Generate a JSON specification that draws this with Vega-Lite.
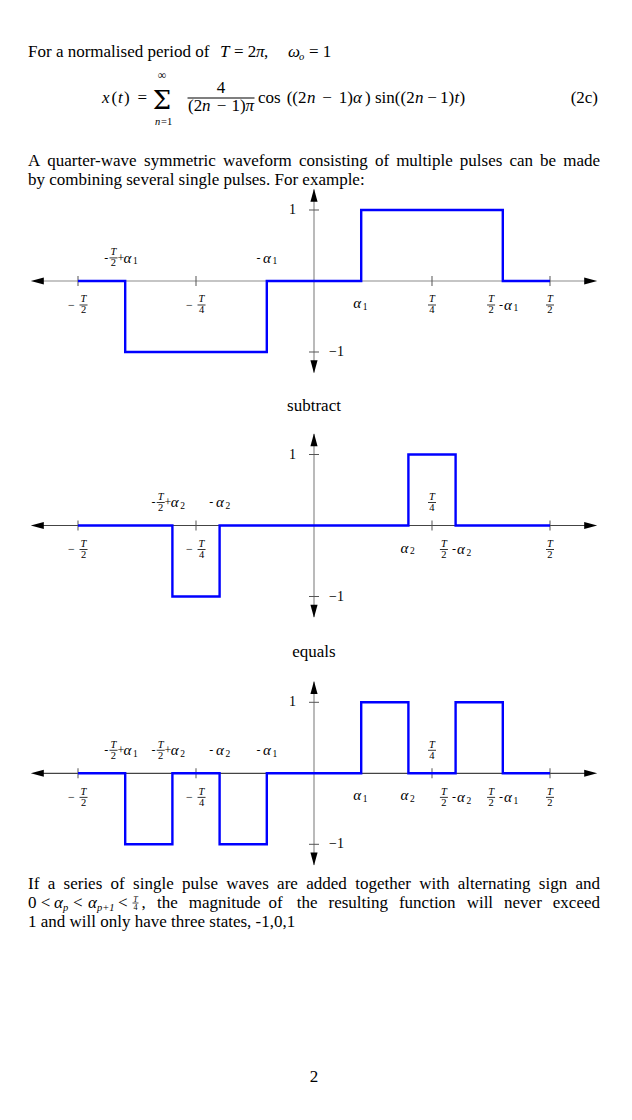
{
 "$schema": "https://vega.github.io/schema/vega-lite/v6.json",
 "width": 632, "height": 1120,
 "autosize": {"type": "fit", "contains": "padding"},
 "padding": 0,
 "background": "white",
 "config": {"view": {"stroke": null}, "axis": {"disable": true}, "text": {"font": "Liberation Serif", "color": "#000"}},
 "datasets": {
  "page": [
   {"x":-0.6059,"y":2.85,"s":"For a normalised period of","cls":"rm"},
   {"x":-0.1992,"y":2.85,"s":"T","cls":"it"},
   {"x":-0.1695,"y":2.85,"s":"= 2","cls":"rm"},
   {"x":-0.1229,"y":2.85,"s":"π","cls":"it"},
   {"x":-0.1059,"y":2.85,"s":",","cls":"rm"},
   {"x":-0.0551,"y":2.85,"s":"ω","cls":"it"},
   {"x":-0.0318,"y":3.0,"s":"o","cls":"sub"},
   {"x":-0.0106,"y":2.85,"s":"= 1","cls":"rm"},
   {"x":-0.4492,"y":5.15,"s":"x","cls":"it"},
   {"x":-0.429,"y":5.15,"s":"(","cls":"rm"},
   {"x":-0.4153,"y":5.15,"s":"t","cls":"it"},
   {"x":-0.4025,"y":5.15,"s":")","cls":"rm"},
   {"x":-0.3739,"y":5.15,"s":"=","cls":"rm"},
   {"x":-0.322,"y":5.45,"s":"Σ","cls":"sig"},
   {"x":-0.322,"y":3.95,"s":"∞","cls":"subc"},
   {"x":-0.3369,"y":6.25,"s":"n","cls":"sub"},
   {"x":-0.3241,"y":6.25,"s":"=1","cls":"subrm"},
   {"x":-0.197,"y":4.665,"s":"4","cls":"rmc"},
   {"x":-0.2669,"y":5.57,"s":"(2","cls":"rm"},
   {"x":-0.2373,"y":5.57,"s":"n","cls":"it"},
   {"x":-0.1958,"y":5.57,"s":"−","cls":"rmc"},
   {"x":-0.1449,"y":5.57,"s":"1)","cls":"rmr"},
   {"x":-0.1449,"y":5.57,"s":"π","cls":"it"},
   {"x":-0.1186,"y":5.15,"s":"cos","cls":"rm"},
   {"x":-0.0159,"y":5.15,"s":"((2","cls":"rmr"},
   {"x":-0.0148,"y":5.15,"s":"n","cls":"it"},
   {"x":0.0275,"y":5.15,"s":"−","cls":"rmc"},
   {"x":0.0826,"y":5.15,"s":"1)","cls":"rmr"},
   {"x":0.0826,"y":5.15,"s":"α","cls":"it"},
   {"x":0.1081,"y":5.15,"s":")","cls":"rm"},
   {"x":0.1292,"y":5.15,"s":"sin((2","cls":"rm"},
   {"x":0.2140,"y":5.15,"s":"n","cls":"it"},
   {"x":0.2500,"y":5.15,"s":"−","cls":"rmc"},
   {"x":0.2669,"y":5.15,"s":"1)","cls":"rm"},
   {"x":0.2977,"y":5.15,"s":"t","cls":"it"},
   {"x":0.3083,"y":5.15,"s":")","cls":"rm"},
   {"x":0.6017,"y":5.15,"s":"(2c)","cls":"rmr"},
   {"x":-0.6059,"y":8.3,"s":"A","cls":"rm"},
   {"x":-0.5650,"y":8.3,"s":"quarter-wave","cls":"rm"},
   {"x":-0.3600,"y":8.3,"s":"symmetric","cls":"rm"},
   {"x":-0.1930,"y":8.3,"s":"waveform","cls":"rm"},
   {"x":-0.0320,"y":8.3,"s":"consisting","cls":"rm"},
   {"x":0.1290,"y":8.3,"s":"of","cls":"rm"},
   {"x":0.1740,"y":8.3,"s":"multiple","cls":"rm"},
   {"x":0.3090,"y":8.3,"s":"pulses","cls":"rm"},
   {"x":0.4140,"y":8.3,"s":"can","cls":"rm"},
   {"x":0.4790,"y":8.3,"s":"be","cls":"rm"},
   {"x":0.6059,"y":8.3,"s":"made","cls":"rmr"},
   {"x":-0.6059,"y":9.25,"s":"by combining several single pulses. For example:","cls":"rm"},
   {"x":0,"y":20.55,"s":"subtract","cls":"rmc"},
   {"x":0,"y":32.85,"s":"equals","cls":"rmc"},
   {"x":-0.6059,"y":44.45,"s":"If","cls":"rm"},
   {"x":-0.5643,"y":44.45,"s":"a","cls":"rm"},
   {"x":-0.5306,"y":44.45,"s":"series","cls":"rm"},
   {"x":-0.4309,"y":44.45,"s":"of","cls":"rm"},
   {"x":-0.3833,"y":44.45,"s":"single","cls":"rm"},
   {"x":-0.2795,"y":44.45,"s":"pulse","cls":"rm"},
   {"x":-0.1858,"y":44.45,"s":"waves","cls":"rm"},
   {"x":-0.0782,"y":44.45,"s":"are","cls":"rm"},
   {"x":-0.0165,"y":44.45,"s":"added","cls":"rm"},
   {"x":0.0872,"y":44.45,"s":"together","cls":"rm"},
   {"x":0.2229,"y":44.45,"s":"with","cls":"rm"},
   {"x":0.3046,"y":44.45,"s":"alternating","cls":"rm"},
   {"x":0.4763,"y":44.45,"s":"sign","cls":"rm"},
   {"x":0.6059,"y":44.45,"s":"and","cls":"rmr"},
   {"x":-0.6059,"y":45.4,"s":"0 <","cls":"rm"},
   {"x":-0.5508,"y":45.4,"s":"α","cls":"it"},
   {"x":-0.5318,"y":45.55,"s":"p","cls":"sub"},
   {"x":-0.5106,"y":45.4,"s":"<","cls":"rm"},
   {"x":-0.4788,"y":45.4,"s":"α","cls":"it"},
   {"x":-0.4597,"y":45.55,"s":"p+1","cls":"sub"},
   {"x":-0.4153,"y":45.4,"s":"<","cls":"rm"},
   {"x":-0.3782,"y":45.075,"s":"T","cls":"tinyT"},
   {"x":-0.3782,"y":45.5,"s":"4","cls":"tinyN"},
   {"x":-0.3655,"y":45.4,"s":",","cls":"rm"},
   {"x":-0.3326,"y":45.4,"s":"the","cls":"rm"},
   {"x":-0.2653,"y":45.4,"s":"magnitude","cls":"rm"},
   {"x":-0.0963,"y":45.4,"s":"of","cls":"rm"},
   {"x":-0.0366,"y":45.4,"s":"the","cls":"rm"},
   {"x":0.0307,"y":45.4,"s":"resulting","cls":"rm"},
   {"x":0.1800,"y":45.4,"s":"function","cls":"rm"},
   {"x":0.3234,"y":45.4,"s":"will","cls":"rm"},
   {"x":0.4027,"y":45.4,"s":"never","cls":"rm"},
   {"x":0.6059,"y":45.4,"s":"exceed","cls":"rmr"},
   {"x":-0.6059,"y":46.35,"s":"1 and will only have three states, -1,0,1","cls":"rm"},
   {"x":0,"y":54.1,"s":"2","cls":"rmc"}
  ],
  "pbar": [{"x":-0.197,"y":4.9,"w":"L"},{"x":-0.3782,"y":45.15,"w":"S"}],
  "hax": [{"t1":-0.59,"t2":0.59,"v":0}],
  "vax": [{"t":0,"v1":-1.29,"v2":1.29}],
  "xt": [{"t":-0.5,"v":0},{"t":-0.25,"v":0},{"t":0.25,"v":0},{"t":0.5,"v":0}],
  "yt": [{"t":0,"v":1},{"t":0,"v":-1}],
  "arr": [{"t":-0.6,"v":0,"dir":"L"},{"t":0.6,"v":0,"dir":"R"},{"t":0,"v":1.3,"dir":"U"},{"t":0,"v":-1.3,"dir":"D"}],
  "ylab": [{"t":-0.0381,"v":1,"s":"1","a":"r"},{"t":0.0318,"v":-1,"s":"−1","a":"l"}],
  "w1": [{"t":-0.5,"v":0},{"t":-0.4,"v":-1},{"t":-0.1,"v":0},{"t":0.1,"v":1},{"t":0.4,"v":0},{"t":0.5,"v":0}],
  "w2": [{"t":-0.5,"v":0},{"t":-0.3,"v":-1},{"t":-0.2,"v":0},{"t":0.2,"v":1},{"t":0.3,"v":0},{"t":0.5,"v":0}],
  "w3": [{"t":-0.5,"v":0},{"t":-0.4,"v":-1},{"t":-0.3,"v":0},{"t":-0.2,"v":-1},{"t":-0.1,"v":0},{"t":0.1,"v":1},{"t":0.2,"v":0},{"t":0.3,"v":1},{"t":0.4,"v":0},{"t":0.5,"v":0}],
  "f1": [{"t":-0.4883,"v":-0.338,"num":"T","den":"2"},{"t":-0.2383,"v":-0.338,"num":"T","den":"4"},{"t":0.25,"v":-0.338,"num":"T","den":"4"},{"t":0.3752,"v":-0.338,"num":"T","den":"2"},{"t":0.5,"v":-0.338,"num":"T","den":"2"},{"t":-0.4248,"v":0.325,"num":"T","den":"2"}],
  "l1": [
   {"t":-0.5138,"v":-0.338,"s":"−","a":"h"},
   {"t":-0.2638,"v":-0.338,"s":"−","a":"h"},
   {"t":0.0831,"v":-0.31,"s":"α","a":"al"},{"t":0.1032,"v":-0.31,"s":"1","a":"sb"},
   {"t":0.3964,"v":-0.338,"s":"-","a":"h"},{"t":0.4028,"v":-0.338,"s":"α","a":"al"},{"t":0.4229,"v":-0.338,"s":"1","a":"sb"},
   {"t":-0.4403,"v":0.325,"s":"-","a":"h"},{"t":-0.4093,"v":0.325,"s":"+","a":"h"},{"t":-0.4036,"v":0.325,"s":"α","a":"al"},{"t":-0.3835,"v":0.325,"s":"1","a":"sb"},
   {"t":-0.1178,"v":0.325,"s":"-","a":"h"},{"t":-0.1078,"v":0.325,"s":"α","a":"al"},{"t":-0.0877,"v":0.325,"s":"1","a":"sb"}
  ],
  "f2": [{"t":-0.4883,"v":-0.338,"num":"T","den":"2"},{"t":-0.2383,"v":-0.338,"num":"T","den":"4"},{"t":0.2752,"v":-0.338,"num":"T","den":"2"},{"t":0.5,"v":-0.338,"num":"T","den":"2"},{"t":-0.3248,"v":0.325,"num":"T","den":"2"},{"t":0.25,"v":0.325,"num":"T","den":"4"}],
  "l2": [
   {"t":-0.5138,"v":-0.338,"s":"−","a":"h"},
   {"t":-0.2638,"v":-0.338,"s":"−","a":"h"},
   {"t":0.1831,"v":-0.31,"s":"α","a":"al"},{"t":0.2032,"v":-0.31,"s":"2","a":"sb"},
   {"t":0.2964,"v":-0.338,"s":"-","a":"h"},{"t":0.3028,"v":-0.338,"s":"α","a":"al"},{"t":0.3229,"v":-0.338,"s":"2","a":"sb"},
   {"t":-0.3403,"v":0.325,"s":"-","a":"h"},{"t":-0.3093,"v":0.325,"s":"+","a":"h"},{"t":-0.3036,"v":0.325,"s":"α","a":"al"},{"t":-0.2835,"v":0.325,"s":"2","a":"sb"},
   {"t":-0.2178,"v":0.325,"s":"-","a":"h"},{"t":-0.2078,"v":0.325,"s":"α","a":"al"},{"t":-0.1877,"v":0.325,"s":"2","a":"sb"}
  ],
  "f3": [{"t":-0.4883,"v":-0.338,"num":"T","den":"2"},{"t":-0.2383,"v":-0.338,"num":"T","den":"4"},{"t":0.2752,"v":-0.338,"num":"T","den":"2"},{"t":0.3752,"v":-0.338,"num":"T","den":"2"},{"t":0.5,"v":-0.338,"num":"T","den":"2"},{"t":-0.4248,"v":0.325,"num":"T","den":"2"},{"t":-0.3248,"v":0.325,"num":"T","den":"2"},{"t":0.25,"v":0.325,"num":"T","den":"4"}],
  "l3": [
   {"t":-0.5138,"v":-0.338,"s":"−","a":"h"},
   {"t":-0.2638,"v":-0.338,"s":"−","a":"h"},
   {"t":0.0831,"v":-0.31,"s":"α","a":"al"},{"t":0.1032,"v":-0.31,"s":"1","a":"sb"},
   {"t":0.1831,"v":-0.31,"s":"α","a":"al"},{"t":0.2032,"v":-0.31,"s":"2","a":"sb"},
   {"t":0.2964,"v":-0.338,"s":"-","a":"h"},{"t":0.3028,"v":-0.338,"s":"α","a":"al"},{"t":0.3229,"v":-0.338,"s":"2","a":"sb"},
   {"t":0.3964,"v":-0.338,"s":"-","a":"h"},{"t":0.4028,"v":-0.338,"s":"α","a":"al"},{"t":0.4229,"v":-0.338,"s":"1","a":"sb"},
   {"t":-0.4403,"v":0.325,"s":"-","a":"h"},{"t":-0.4093,"v":0.325,"s":"+","a":"h"},{"t":-0.4036,"v":0.325,"s":"α","a":"al"},{"t":-0.3835,"v":0.325,"s":"1","a":"sb"},
   {"t":-0.3403,"v":0.325,"s":"-","a":"h"},{"t":-0.3093,"v":0.325,"s":"+","a":"h"},{"t":-0.3036,"v":0.325,"s":"α","a":"al"},{"t":-0.2835,"v":0.325,"s":"2","a":"sb"},
   {"t":-0.2178,"v":0.325,"s":"-","a":"h"},{"t":-0.2078,"v":0.325,"s":"α","a":"al"},{"t":-0.1877,"v":0.325,"s":"2","a":"sb"},
   {"t":-0.1178,"v":0.325,"s":"-","a":"h"},{"t":-0.1078,"v":0.325,"s":"α","a":"al"},{"t":-0.0877,"v":0.325,"s":"1","a":"sb"}
  ]
 },
 "resolve": {"scale": {"y": "independent"}},
 "layer": [
  {
   "encoding": {
    "x": {"field": "x", "type": "quantitative", "scale": {"domain": [-0.66525, 0.67373], "nice": false, "zero": false}},
    "y": {"field": "y", "type": "quantitative", "scale": {"domain": [0, 56], "nice": false, "zero": false, "reverse": true}}
   },
   "layer": [
    {"data": {"name": "page"}, "transform": [{"filter": "datum.cls === 'rm'"}], "mark": {"type": "text", "align": "left", "baseline": "alphabetic", "fontSize": 17}, "encoding": {"text": {"field": "s"}}},
    {"data": {"name": "page"}, "transform": [{"filter": "datum.cls === 'it'"}], "mark": {"type": "text", "align": "left", "baseline": "alphabetic", "fontSize": 17, "fontStyle": "italic"}, "encoding": {"text": {"field": "s"}}},
    {"data": {"name": "page"}, "transform": [{"filter": "datum.cls === 'rmr'"}], "mark": {"type": "text", "align": "right", "baseline": "alphabetic", "fontSize": 17}, "encoding": {"text": {"field": "s"}}},
    {"data": {"name": "page"}, "transform": [{"filter": "datum.cls === 'rmc'"}], "mark": {"type": "text", "align": "center", "baseline": "alphabetic", "fontSize": 17}, "encoding": {"text": {"field": "s"}}},
    {"data": {"name": "page"}, "transform": [{"filter": "datum.cls === 'sub'"}], "mark": {"type": "text", "align": "left", "baseline": "alphabetic", "fontSize": 10.5, "fontStyle": "italic"}, "encoding": {"text": {"field": "s"}}},
    {"data": {"name": "page"}, "transform": [{"filter": "datum.cls === 'subrm'"}], "mark": {"type": "text", "align": "left", "baseline": "alphabetic", "fontSize": 10.5}, "encoding": {"text": {"field": "s"}}},
    {"data": {"name": "page"}, "transform": [{"filter": "datum.cls === 'subc'"}], "mark": {"type": "text", "align": "center", "baseline": "alphabetic", "fontSize": 12}, "encoding": {"text": {"field": "s"}}},
    {"data": {"name": "page"}, "transform": [{"filter": "datum.cls === 'sig'"}], "mark": {"type": "text", "align": "center", "baseline": "alphabetic", "fontSize": 26, "font": "DejaVu Serif"}, "encoding": {"text": {"field": "s"}}},
    {"data": {"name": "page"}, "transform": [{"filter": "datum.cls === 'tinyT'"}], "mark": {"type": "text", "align": "center", "baseline": "alphabetic", "fontSize": 8, "fontStyle": "italic"}, "encoding": {"text": {"field": "s"}}},
    {"data": {"name": "page"}, "transform": [{"filter": "datum.cls === 'tinyN'"}], "mark": {"type": "text", "align": "center", "baseline": "alphabetic", "fontSize": 8}, "encoding": {"text": {"field": "s"}}},
    {"data": {"name": "pbar"}, "transform": [{"filter": "datum.w === 'L'"}], "mark": {"type": "tick", "orient": "horizontal", "size": 67, "thickness": 0.9, "color": "#000", "opacity": 1}},
    {"data": {"name": "pbar"}, "transform": [{"filter": "datum.w === 'S'"}], "mark": {"type": "tick", "orient": "horizontal", "size": 6, "thickness": 0.7, "color": "#000", "opacity": 1}}
   ]
  },
  {
   "encoding": {
    "x": {"field": "t", "type": "quantitative", "scale": {"domain": [-0.66525, 0.67373], "nice": false, "zero": false}},
    "y": {"field": "v", "type": "quantitative", "scale": {"domain": [-11.8169, 3.9577], "nice": false, "zero": false}}
   },
   "layer": [
    {"data": {"name": "hax"}, "mark": {"type": "rule", "color": "#8c8c8c", "strokeWidth": 1.2}, "encoding": {"x": {"field": "t1", "type": "quantitative", "scale": {"domain": [-0.66525, 0.67373], "nice": false, "zero": false}}, "x2": {"field": "t2"}}},
    {"data": {"name": "vax"}, "mark": {"type": "rule", "color": "#8c8c8c", "strokeWidth": 1.2}, "encoding": {"y": {"field": "v1", "type": "quantitative", "scale": {"domain": [-11.8169, 3.9577], "nice": false, "zero": false}}, "y2": {"field": "v2"}}},
    {"data": {"name": "xt"}, "mark": {"type": "tick", "orient": "vertical", "size": 10, "thickness": 1, "color": "#555", "opacity": 1}},
    {"data": {"name": "yt"}, "mark": {"type": "tick", "orient": "horizontal", "size": 10, "thickness": 1, "color": "#555", "opacity": 1}},
    {"data": {"name": "w1"}, "mark": {"type": "line", "interpolate": "step-after", "color": "#0000ff", "strokeWidth": 2.4}},
    {"data": {"name": "arr"}, "mark": {"type": "point", "filled": true, "color": "#000", "opacity": 1, "size": 169, "strokeWidth": 0}, "encoding": {"shape": {"field": "dir", "type": "nominal", "scale": {"domain": ["L", "R", "U", "D"], "range": ["M0,0L2,-0.55L2,0.55Z", "M0,0L-2,-0.55L-2,0.55Z", "M0,0L-0.55,2L0.55,2Z", "M0,0L-0.55,-2L0.55,-2Z"]}, "legend": null}}},
    {"data": {"name": "ylab"}, "transform": [{"filter": "datum.a === 'r'"}], "mark": {"type": "text", "align": "right", "baseline": "middle", "fontSize": 14}, "encoding": {"text": {"field": "s"}}},
    {"data": {"name": "ylab"}, "transform": [{"filter": "datum.a === 'l'"}], "mark": {"type": "text", "align": "left", "baseline": "middle", "fontSize": 14}, "encoding": {"text": {"field": "s"}}},
    {"data": {"name": "f1"}, "mark": {"type": "text", "align": "center", "baseline": "middle", "fontSize": 10.5, "fontStyle": "italic", "dy": -5.5}, "encoding": {"text": {"field": "num"}}},
    {"data": {"name": "f1"}, "mark": {"type": "text", "align": "center", "baseline": "middle", "fontSize": 10.5, "dy": 5.5}, "encoding": {"text": {"field": "den"}}},
    {"data": {"name": "f1"}, "mark": {"type": "tick", "orient": "horizontal", "size": 8, "thickness": 0.8, "color": "#000", "opacity": 1}},
    {"data": {"name": "l1"}, "transform": [{"filter": "datum.a === 'h'"}], "mark": {"type": "text", "align": "center", "baseline": "middle", "fontSize": 12}, "encoding": {"text": {"field": "s"}}},
    {"data": {"name": "l1"}, "transform": [{"filter": "datum.a === 'al'"}], "mark": {"type": "text", "align": "left", "baseline": "middle", "fontSize": 15, "fontStyle": "italic"}, "encoding": {"text": {"field": "s"}}},
    {"data": {"name": "l1"}, "transform": [{"filter": "datum.a === 'sb'"}], "mark": {"type": "text", "align": "left", "baseline": "middle", "fontSize": 9.5, "dy": 3.5}, "encoding": {"text": {"field": "s"}}}
   ]
  },
  {
   "encoding": {
    "x": {"field": "t", "type": "quantitative", "scale": {"domain": [-0.66525, 0.67373], "nice": false, "zero": false}},
    "y": {"field": "v", "type": "quantitative", "scale": {"domain": [-8.3732, 7.4014], "nice": false, "zero": false}}
   },
   "layer": [
    {"data": {"name": "hax"}, "mark": {"type": "rule", "color": "#444", "strokeWidth": 1.2}, "encoding": {"x": {"field": "t1", "type": "quantitative", "scale": {"domain": [-0.66525, 0.67373], "nice": false, "zero": false}}, "x2": {"field": "t2"}}},
    {"data": {"name": "vax"}, "mark": {"type": "rule", "color": "#8c8c8c", "strokeWidth": 1.2}, "encoding": {"y": {"field": "v1", "type": "quantitative", "scale": {"domain": [-8.3732, 7.4014], "nice": false, "zero": false}}, "y2": {"field": "v2"}}},
    {"data": {"name": "xt"}, "mark": {"type": "tick", "orient": "vertical", "size": 10, "thickness": 1, "color": "#555", "opacity": 1}},
    {"data": {"name": "yt"}, "mark": {"type": "tick", "orient": "horizontal", "size": 10, "thickness": 1, "color": "#555", "opacity": 1}},
    {"data": {"name": "w2"}, "mark": {"type": "line", "interpolate": "step-after", "color": "#0000ff", "strokeWidth": 2.4}},
    {"data": {"name": "arr"}, "mark": {"type": "point", "filled": true, "color": "#000", "opacity": 1, "size": 169, "strokeWidth": 0}, "encoding": {"shape": {"field": "dir", "type": "nominal", "scale": {"domain": ["L", "R", "U", "D"], "range": ["M0,0L2,-0.55L2,0.55Z", "M0,0L-2,-0.55L-2,0.55Z", "M0,0L-0.55,2L0.55,2Z", "M0,0L-0.55,-2L0.55,-2Z"]}, "legend": null}}},
    {"data": {"name": "ylab"}, "transform": [{"filter": "datum.a === 'r'"}], "mark": {"type": "text", "align": "right", "baseline": "middle", "fontSize": 14}, "encoding": {"text": {"field": "s"}}},
    {"data": {"name": "ylab"}, "transform": [{"filter": "datum.a === 'l'"}], "mark": {"type": "text", "align": "left", "baseline": "middle", "fontSize": 14}, "encoding": {"text": {"field": "s"}}},
    {"data": {"name": "f2"}, "mark": {"type": "text", "align": "center", "baseline": "middle", "fontSize": 10.5, "fontStyle": "italic", "dy": -5.5}, "encoding": {"text": {"field": "num"}}},
    {"data": {"name": "f2"}, "mark": {"type": "text", "align": "center", "baseline": "middle", "fontSize": 10.5, "dy": 5.5}, "encoding": {"text": {"field": "den"}}},
    {"data": {"name": "f2"}, "mark": {"type": "tick", "orient": "horizontal", "size": 8, "thickness": 0.8, "color": "#000", "opacity": 1}},
    {"data": {"name": "l2"}, "transform": [{"filter": "datum.a === 'h'"}], "mark": {"type": "text", "align": "center", "baseline": "middle", "fontSize": 12}, "encoding": {"text": {"field": "s"}}},
    {"data": {"name": "l2"}, "transform": [{"filter": "datum.a === 'al'"}], "mark": {"type": "text", "align": "left", "baseline": "middle", "fontSize": 15, "fontStyle": "italic"}, "encoding": {"text": {"field": "s"}}},
    {"data": {"name": "l2"}, "transform": [{"filter": "datum.a === 'sb'"}], "mark": {"type": "text", "align": "left", "baseline": "middle", "fontSize": 9.5, "dy": 3.5}, "encoding": {"text": {"field": "s"}}}
   ]
  },
  {
   "encoding": {
    "x": {"field": "t", "type": "quantitative", "scale": {"domain": [-0.66525, 0.67373], "nice": false, "zero": false}},
    "y": {"field": "v", "type": "quantitative", "scale": {"domain": [-4.8831, 10.8915], "nice": false, "zero": false}}
   },
   "layer": [
    {"data": {"name": "hax"}, "mark": {"type": "rule", "color": "#444", "strokeWidth": 1.2}, "encoding": {"x": {"field": "t1", "type": "quantitative", "scale": {"domain": [-0.66525, 0.67373], "nice": false, "zero": false}}, "x2": {"field": "t2"}}},
    {"data": {"name": "vax"}, "mark": {"type": "rule", "color": "#8c8c8c", "strokeWidth": 1.2}, "encoding": {"y": {"field": "v1", "type": "quantitative", "scale": {"domain": [-4.8831, 10.8915], "nice": false, "zero": false}}, "y2": {"field": "v2"}}},
    {"data": {"name": "xt"}, "mark": {"type": "tick", "orient": "vertical", "size": 10, "thickness": 1, "color": "#555", "opacity": 1}},
    {"data": {"name": "yt"}, "mark": {"type": "tick", "orient": "horizontal", "size": 10, "thickness": 1, "color": "#555", "opacity": 1}},
    {"data": {"name": "w3"}, "mark": {"type": "line", "interpolate": "step-after", "color": "#0000ff", "strokeWidth": 2.4}},
    {"data": {"name": "arr"}, "mark": {"type": "point", "filled": true, "color": "#000", "opacity": 1, "size": 169, "strokeWidth": 0}, "encoding": {"shape": {"field": "dir", "type": "nominal", "scale": {"domain": ["L", "R", "U", "D"], "range": ["M0,0L2,-0.55L2,0.55Z", "M0,0L-2,-0.55L-2,0.55Z", "M0,0L-0.55,2L0.55,2Z", "M0,0L-0.55,-2L0.55,-2Z"]}, "legend": null}}},
    {"data": {"name": "ylab"}, "transform": [{"filter": "datum.a === 'r'"}], "mark": {"type": "text", "align": "right", "baseline": "middle", "fontSize": 14}, "encoding": {"text": {"field": "s"}}},
    {"data": {"name": "ylab"}, "transform": [{"filter": "datum.a === 'l'"}], "mark": {"type": "text", "align": "left", "baseline": "middle", "fontSize": 14}, "encoding": {"text": {"field": "s"}}},
    {"data": {"name": "f3"}, "mark": {"type": "text", "align": "center", "baseline": "middle", "fontSize": 10.5, "fontStyle": "italic", "dy": -5.5}, "encoding": {"text": {"field": "num"}}},
    {"data": {"name": "f3"}, "mark": {"type": "text", "align": "center", "baseline": "middle", "fontSize": 10.5, "dy": 5.5}, "encoding": {"text": {"field": "den"}}},
    {"data": {"name": "f3"}, "mark": {"type": "tick", "orient": "horizontal", "size": 8, "thickness": 0.8, "color": "#000", "opacity": 1}},
    {"data": {"name": "l3"}, "transform": [{"filter": "datum.a === 'h'"}], "mark": {"type": "text", "align": "center", "baseline": "middle", "fontSize": 12}, "encoding": {"text": {"field": "s"}}},
    {"data": {"name": "l3"}, "transform": [{"filter": "datum.a === 'al'"}], "mark": {"type": "text", "align": "left", "baseline": "middle", "fontSize": 15, "fontStyle": "italic"}, "encoding": {"text": {"field": "s"}}},
    {"data": {"name": "l3"}, "transform": [{"filter": "datum.a === 'sb'"}], "mark": {"type": "text", "align": "left", "baseline": "middle", "fontSize": 9.5, "dy": 3.5}, "encoding": {"text": {"field": "s"}}}
   ]
  }
 ]
}
